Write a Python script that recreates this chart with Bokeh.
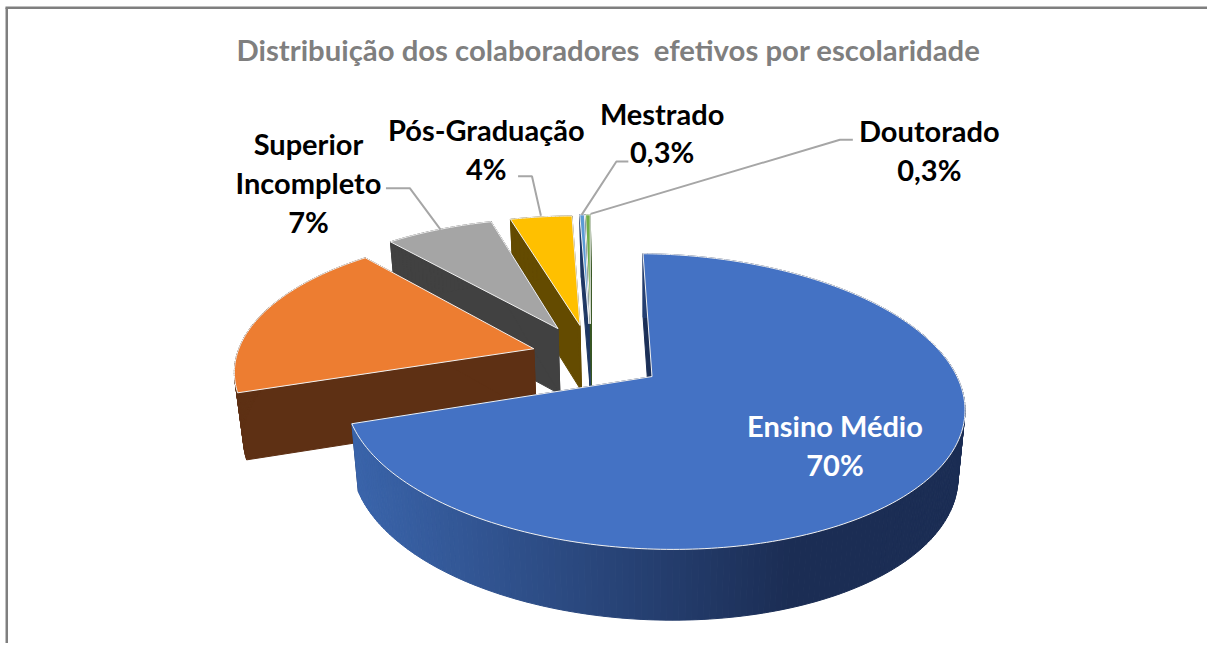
import math
from bokeh.plotting import figure
from bokeh.models import Range1d
from bokeh.core.properties import value
from bokeh.embed import file_html
from bokeh.resources import INLINE

TITLE = "Distribuição dos colaboradores  efetivos por escolaridade"
categories = ["Ensino Médio", "Graduação", "Superior Incompleto", "Pós-Graduação", "Mestrado", "Doutorado"]
shares = [69.6, 18.8, 7.0, 4.0, 0.3, 0.3]
top_colors = ["#4472C4", "#ED7D31", "#A5A5A5", "#FFC000", "#5B9BD5", "#70AD47"]
wall_colors = ["#1B2F57", "#5E3014", "#414141", "#644B00", "#1F3864", "#375623"]
explode = [0.245, 0.20, 0.235, 0.235, 0.245, 0.245]

label_lines = [["Superior", "Incompleto", "7%"], ["Pós-Graduação", "4%"], ["Mestrado", "0,3%"], ["Doutorado", "0,3%"], ["Ensino Médio", "70%"]]
label_x = [310, 489, 666, 935, 840]
label_y = [145, 131, 114, 132, 430]
label_colors = ["#000000", "#000000", "#000000", "#000000", "#FFFFFF"]
leaders_x = [[388, 412, 443], [521, 535, 544], [632, 620, 585], [858, 845, 594]]
leaders_y = [[190, 190, 232], [178, 178, 218], [163, 163, 217], [141, 141, 216]]

# projection of the tilted pie
X0, Y0, B, A, C, D = 594.4, 360.0, 299.6, 138.5, 0.165, -7.0
START = 1.3


def project(u, v):
    s = 1.0 / (1.0 + C * v)
    return X0 + (B * u + D * v) * s, Y0 - A * v * s, s


def lower(u, v):
    x, y, s = project(u, v)
    return 650 + (x - 650) * 0.978, y + 47 + 20 * s


def mix(a, b, t):
    return "#" + "".join("%02x" % round(int(a[i:i + 2], 16) * (1 - t) + int(b[i:i + 2], 16) * t) for i in (1, 3, 5))


p = figure(width=1207, height=643, output_backend="svg", toolbar_location=None,
           x_range=Range1d(0, 1215), y_range=Range1d(651, 0),
           min_border=0, outline_line_color=None, background_fill_color="white")
p.axis.visible = False
p.grid.visible = False

# chart frame
p.line([6.3, 6.3], [7.3, 651], line_color="#7F7F7F", line_width=2.5)
p.line([5, 1215], [7.3, 7.3], line_color="#7F7F7F", line_width=2.5)

# slices: angles clockwise from twelve o'clock
spans = []
a0 = START
for s_ in shares:
    a1 = a0 + s_ * 3.6
    spans.append((a0, a1))
    a0 = a1

for i in [5, 4, 3, 2, 1, 0]:
    t0, t1 = spans[i]
    mid = math.radians((t0 + t1) / 2)
    cu, cv = explode[i] * math.sin(mid), explode[i] * math.cos(mid)
    n = max(2, int(t1 - t0) + 1)
    angs = [math.radians(t0 + (t1 - t0) * k / n) for k in range(n + 1)]
    pts = [(cu + math.sin(a), cv + math.cos(a)) for a in angs]

    # radial walls
    for q in (pts[0], pts[-1]):
        xa, ya, _ = project(cu, cv)
        xb, yb, _ = project(*q)
        xc, yc = lower(*q)
        xd, yd = lower(cu, cv)
        p.patch([xa, xb, xc, xd], [ya, yb, yc, yd], fill_color=wall_colors[i], line_color=wall_colors[i], line_width=1)

    # rim
    xs, ys, cols = [], [], []
    for q0, q1 in zip(pts[:-1], pts[1:]):
        x0, y0, _ = project(*q0)
        x1, y1, _ = project(*q1)
        x2, y2 = lower(*q1)
        x3, y3 = lower(*q0)
        xs.append([x0, x1, x2, x3])
        ys.append([y0, y1, y2, y3])
        if i == 0:
            t = min(1.0, max(0.0, ((x0 + x1) / 2 - 357) / 440))
            cols.append(mix("#3A64AA", "#1B2D54", t))
        else:
            cols.append(wall_colors[i])
    p.patches(xs, ys, fill_color=cols, line_color=cols, line_width=1)

    # top face
    xa, ya, _ = project(cu, cv)
    fx, fy = [xa], [ya]
    for q in pts:
        x, y, _ = project(*q)
        fx.append(x)
        fy.append(y)
    p.patch(fx, fy, fill_color=top_colors[i], line_color="#F2F2F2", line_width=1)

# leader lines
for lx, ly in zip(leaders_x, leaders_y):
    p.line(lx, ly, line_color="#A6A6A6", line_width=2)

# texts
FONT = value("Lato")
p.text([612], [50], text=[TITLE.replace("  ", "\u00a0\u00a0")], text_font=FONT, text_font_style="bold", text_font_size="29.3px",
       text_color="#7F7F7F", text_align="center", text_baseline="middle")
for lines, x, y, col in zip(label_lines, label_x, label_y, label_colors):
    for k, line in enumerate(lines):
        p.text([x], [y + 39.3 * k], text=[line], text_font=FONT, text_font_style="bold", text_font_size="29px",
               text_color=col, text_align="center", text_baseline="middle")

open("out.html", "w").write(file_html(p, INLINE))
